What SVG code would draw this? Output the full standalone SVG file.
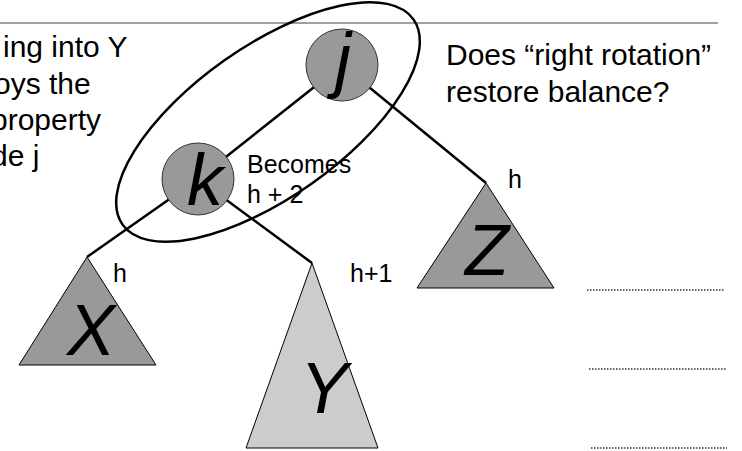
<svg xmlns="http://www.w3.org/2000/svg" width="742" height="451" viewBox="0 0 742 451">
<style>
.txt{font-family:"Liberation Sans",Arial,sans-serif;fill:#000}
.big{font-size:30px}
.mid{font-size:25px}
.let{font-family:"Liberation Sans",Arial,sans-serif;font-size:72px;font-style:italic;text-anchor:middle;fill:#000}
.node{fill:#999999;stroke:#333;stroke-width:1}
.tri{fill:#999999;stroke:#000;stroke-width:1}
.triy{fill:#cccccc;stroke:#000;stroke-width:1}
.edge{stroke:#000;stroke-width:2.5;fill:none}
.dot{stroke:#333;stroke-width:1.5;stroke-dasharray:1.5 1.5}
</style>
<rect width="742" height="451" fill="#fff"/>
<line x1="0" y1="23" x2="718" y2="23" stroke="#808080" stroke-width="1.5"/>
<g id="connectors">
<line class="edge" x1="342" y1="65" x2="198" y2="179"/>
<line class="edge" x1="342" y1="65" x2="486" y2="183"/>
<line class="edge" x1="198" y1="179" x2="87" y2="257"/>
<line class="edge" x1="198" y1="179" x2="312" y2="263"/>
</g>
<g id="node-j">
<circle class="node" cx="342" cy="65" r="36"/>
<text class="let" x="343" y="84">j</text>
</g>
<g id="node-k">
<circle class="node" cx="198" cy="179" r="36"/>
<text class="let" x="205" y="205">k</text>
</g>
<g id="node-X">
<polygon class="tri" points="87,257 19,365 156,365"/>
<text class="let" x="91" y="355">X</text>
</g>
<g id="node-Y">
<polygon class="triy" points="312,263 246,448 378,448"/>
<text class="let" x="324" y="413">Y</text>
</g>
<g id="node-Z">
<polygon class="tri" points="486,183 417,288 554,288"/>
<text class="let" x="487" y="275">Z</text>
</g>
<g id="labels">
<text class="txt big" x="3" y="57">ing into Y</text>
<text class="txt big" x="-6" y="94">oys the</text>
<text class="txt big" x="-9" y="130">property</text>
<text class="txt big" x="-9" y="166">de j</text>
<text class="txt big" x="446" y="65">Does “right rotation”</text>
<text class="txt big" x="446" y="102">restore balance?</text>
<text class="txt mid" x="247" y="173">Becomes</text>
<text class="txt mid" x="247" y="203">h + 2</text>
<text class="txt mid" x="113" y="282">h</text>
<text class="txt mid" x="350" y="282">h+1</text>
<text class="txt mid" x="508" y="188">h</text>
</g>
<g id="ellipse">
<ellipse cx="268" cy="122" rx="178" ry="75.5" transform="rotate(-35.2 268 122)" fill="none" stroke="#000" stroke-width="2.5"/>
</g>
<g id="blanks">
<line class="dot" x1="587" y1="290" x2="724" y2="290"/>
<line class="dot" x1="589" y1="369" x2="726" y2="369"/>
<line class="dot" x1="591" y1="448" x2="727" y2="448"/>
</g>
</svg>
